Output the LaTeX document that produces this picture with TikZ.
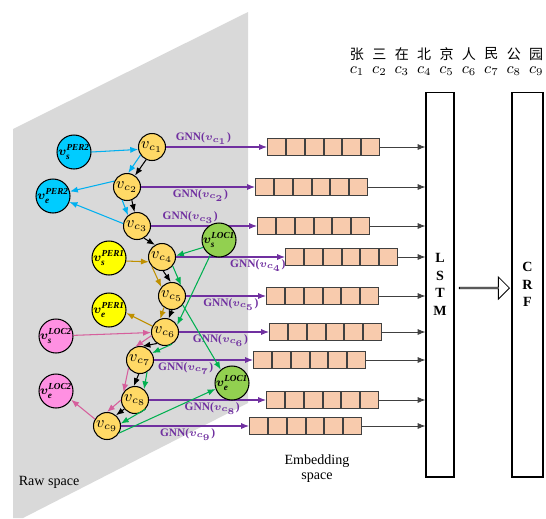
\documentclass[tikz,border=0pt]{standalone}
\usepackage{fontspec}
\setmainfont{Liberation Serif}
\newfontfamily\cjk{Noto Sans CJK SC}
\usepackage{amsmath}
\usepackage{bm}
\usetikzlibrary{positioning,arrows.meta,shapes.arrows}

\definecolor{rawgray}{HTML}{D9D9D9}
\definecolor{cfill}{HTML}{FFD966}
\definecolor{perbluefill}{HTML}{00CCFF}
\definecolor{peryellowfill}{HTML}{FFFF00}
\definecolor{locpinkfill}{HTML}{FF90E2}
\definecolor{locgreenfill}{HTML}{92D050}
\definecolor{cellfill}{HTML}{F8CBAD}
\definecolor{cellline}{HTML}{404040}
\definecolor{gnnpurple}{HTML}{7030A0}
\definecolor{edgeblue}{HTML}{00B0F0}
\definecolor{edgegold}{HTML}{BF9000}
\definecolor{edgepink}{HTML}{D65F9C}
\definecolor{edgegreen}{HTML}{00B050}

\newcommand{\entlabel}[2]{\makebox[0pt]{$\bm{v}_{\text{\bfseries\itshape #1}}^{\text{\bfseries\itshape #2}}$}}

\begin{document}
\begin{tikzpicture}[
  x=0.02cm, y=-0.02cm,
  >={Latex[length=4.5pt,width=3.5pt]},
  cnode/.style={draw,circle,fill=cfill,minimum size=0.54cm,inner sep=0pt,line width=0.6pt,font=\fontsize{9}{10}\selectfont},
  ent/.style={draw,circle,minimum size=0.68cm,inner sep=0pt,line width=0.6pt,font=\fontsize{7.5}{8}\selectfont},
  cell/.style={draw=cellline,fill=cellfill,minimum size=0.356cm,inner sep=0pt,line width=0.6pt},
  gnn/.style={->,color=gnnpurple,line width=0.6pt},
  gnnlabel/.style={text=gnnpurple,font=\fontsize{6.5}{7}\selectfont\bfseries,inner sep=1pt},
  feed/.style={->,color=cellline,line width=0.5pt},
  lnblack/.style={->,line width=0.6pt},
  lnblue/.style={->,color=edgeblue,line width=0.6pt},
  lngold/.style={->,color=edgegold,line width=0.6pt},
  lnpink/.style={->,color=edgepink,line width=0.6pt},
  lngreen/.style={->,color=edgegreen,line width=0.6pt}]
\useasboundingbox (0,0) rectangle (546,518);

\fill[rawgray] (13,129) -- (248,12) -- (248,403) -- (23,518) -- (13,518) -- cycle;
\node[font=\fontsize{8}{9}\selectfont] (raw) at (49,482) {Raw space};

% characters
\foreach \ch [count=\i] in {张,三,在,北,京,人,民,公,园} {
  \node[font=\cjk\fontsize{8}{9}\selectfont,inner sep=0pt] (w\i) at ({357+22.4*(\i-1)},54) {\ch};
  \node[font=\fontsize{9}{10}\selectfont,inner sep=0pt] (ch\i) at ({357+22.4*(\i-1)},71) {$c_{\i}$};
}

% character nodes
\node[cnode] (c1) at (152,147) {$v_{c_1}$};
\node[cnode] (c2) at (127,187) {$v_{c_2}$};
\node[cnode] (c3) at (137,226) {$v_{c_3}$};
\node[cnode] (c4) at (162,257) {$v_{c_4}$};
\node[cnode] (c5) at (172,296) {$v_{c_5}$};
\node[cnode] (c6) at (165,332) {$v_{c_6}$};
\node[cnode] (c7) at (140,360) {$v_{c_7}$};
\node[cnode] (c8) at (135,400) {$v_{c_8}$};
\node[cnode] (c9) at (107,426) {$v_{c_9}$};

% embeddings
\foreach \r/\x in {1/267,2/255,3/257,4/285,5/266,6/269,7/253,8/266,9/249} {
  \node[cell,anchor=west] (e\r-1) at (\x,0 |- c\r) {};
  \foreach \k [count=\p from 1] in {2,...,6}
    \node[cell,right=0pt of e\r-\p] (e\r-\k) {};
}

\node[draw,line width=0.6pt,minimum width=0.56cm,minimum height=7.7cm,align=center,font=\fontsize{8}{10}\selectfont\bfseries] (lstm) at (440,284.5) {L\\S\\T\\M};
\node[draw,line width=0.6pt,minimum width=0.62cm,minimum height=7.7cm,align=center,font=\fontsize{8}{10}\selectfont\bfseries] (crf) at (527.5,284.5) {C\\R\\F};
\node[single arrow,draw,fill=white,line width=0.5pt,minimum height=1cm,minimum width=0.44cm,single arrow head extend=0.12cm,inner sep=0pt] (tocrf) at (484,288) {};

\node[font=\fontsize{8}{8.5}\selectfont,align=center] (embed) at (317,469) {Embedding\\space};

\foreach \i/\p/\a in {1/0.37/south,2/0.52/north,3/0.37/south,4/0.75/north,5/0.56/north,6/0.46/north,7/0.32/north,8/0.54/north,9/0.52/north}
  \draw[gnn] (c\i) -- node[gnnlabel,pos=\p,anchor=\a] {GNN($\bm{v_{c_{\i}}}$)} (e\i-1.west);

\foreach \i in {1,...,9}
  \draw[feed] (e\i-6.east) -- (e\i-6.east -| lstm.west);

% entity nodes
\node[ent,fill=perbluefill] (vsP2) at (74,152) {\entlabel{s}{PER2}};
\node[ent,fill=perbluefill] (veP2) at (53,196) {\entlabel{e}{PER2}};
\node[ent,fill=peryellowfill] (vsP1) at (109,258) {\entlabel{s}{PER1}};
\node[ent,fill=peryellowfill] (veP1) at (109,310) {\entlabel{e}{PER1}};
\node[ent,fill=locpinkfill] (vsL2) at (56,336) {\entlabel{s}{LOC2}};
\node[ent,fill=locpinkfill] (veL2) at (56,391) {\entlabel{e}{LOC2}};
\node[ent,fill=locgreenfill] (vsL1) at (219,240) {\entlabel{s}{LOC1}};
\node[ent,fill=locgreenfill] (veL1) at (232,383) {\entlabel{e}{LOC1}};

\draw[lnblack] (c1.245) -- (c2.55);
\draw[lnblack] (c2.290) -- (c3.100);
\draw[lnblack] (c3.300) -- (c4.120);
\draw[lnblack] (c4.275) -- (c5.95);
\draw[lnblack] (c5.270) -- (c6.75);
\draw[lnblack] (c6.235) -- (c7.80);
\draw[lnblack] (c7.265) -- (c8.95);
\draw[lnblack] (c8.220) -- (c9.50);

\draw[lnblue] (vsP2.0) -- (c1.190);
\draw[lnblue] (c1.215) -- (c2.85);
\draw[lnblue] (c2.250) -- (c3.130);
\draw[lnblue] (c2.155) -- (veP2.15);
\draw[lnblue] (c3.170) -- (veP2.-20);

\draw[lngold] (vsP1.-10) -- (c4.200);
\draw[lngold] (c4.225) -- (c5.140);
\draw[lngold] (c5.235) -- (c6.110);
\draw[lngold] (c6.155) -- (veP1.-10);

\draw[lnpink] (vsL2) -- (c6);
\draw[lnpink] (c6.195) -- (c7.110);
\draw[lnpink] (c7.215) -- (c8.145);
\draw[lnpink] (c8.180) -- (c9.90);
\draw[lnpink] (c9.150) -- (veL2.-30);

\draw[lngreen] (vsL1.205) -- (c4.5);
\draw[lngreen] (c4.320) -- (c5.50);
\draw[lngreen] (vsL1.240) -- (c6.30);
\draw[lngreen] (c5.320) -- (veL1.130);
\draw[lngreen] (c6.300) -- (c7.30);
\draw[lngreen] (c7.300) -- (c8.50);
\draw[lngreen] (c8.320) -- (c9.10);
\draw[lngreen] (c9.330) -- (veL1.200);
\end{tikzpicture}
\end{document}
